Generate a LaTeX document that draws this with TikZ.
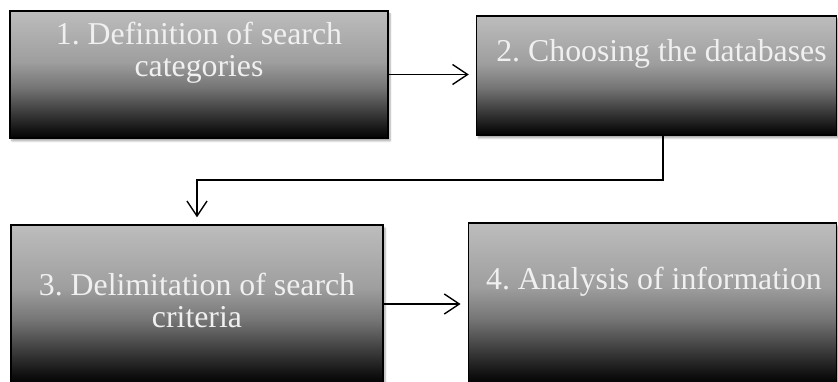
\documentclass[tikz,border=0pt]{standalone}
\usepackage{fontspec}
\setmainfont{Liberation Serif}
\usetikzlibrary{arrows.meta,shadows.blur}
\definecolor{sA}{gray}{0.74}
\definecolor{sB}{gray}{0.62}
\definecolor{sC}{gray}{0.46}
\definecolor{sD}{gray}{0.23}
\definecolor{sE}{gray}{0.07}
\definecolor{sF}{gray}{0.01}
\definecolor{txt}{gray}{0.94}
\pgfdeclareverticalshading{boxshade}{100bp}{color(0bp)=(sF); color(25bp)=(sF); color(28bp)=(sE); color(35bp)=(sD); color(45bp)=(sC); color(55bp)=(sB); color(75bp)=(sA); color(100bp)=(sA)}
\begin{document}
\frenchspacing
\begin{tikzpicture}[x=1pt,y=1pt,
  box/.style={draw=black, line width=1.4pt, shading=boxshade, inner sep=0pt,
    blur shadow={shadow xshift=2pt, shadow yshift=-3pt, shadow blur steps=6, shadow opacity=35}},
  label/.style={text=txt, align=center, anchor=base, inner sep=0pt,
    font=\fontsize{31.8}{32}\selectfont\frenchspacing},
  arr/.style={line width=1.4pt, -{Straight Barb[length=15pt,width=20pt,line width=1.4pt]}, shorten >=7pt}]
\useasboundingbox (0,0) rectangle (838,381);
\node[box, minimum width=378pt, minimum height=127pt] (b1) at (199,306.5) {};
\node[box, minimum width=360pt, minimum height=119pt] (b2) at (656.5,305.5) {};
\node[box, minimum width=372pt, minimum height=158pt] (b3) at (197,77) {};
\node[box, minimum width=368.5pt, minimum height=160pt] (b4) at (652.5,78) {};
\node[label] (t1) at (199,304) {1. Definition of search\\categories};
\node[label] (t2) at (661.5,319) {2. Choosing the databases};
\node[label] (t3) at (197,54) {3. Delimitation of search\\criteria};
\node[label] (t4) at (654,92) {4. Analysis of information};
\coordinate (c2) at (663,246);
\coordinate (k1) at (663,201);
\coordinate (k2) at (197,201);
\draw[arr] (b1.east) -- (b2.west |- b1.east);
\draw[arr] (c2) -- (k1) -- (k2) -- (b3.north);
\draw[arr] (b3.east) -- (b4.west |- b3.east);
\end{tikzpicture}
\end{document}
